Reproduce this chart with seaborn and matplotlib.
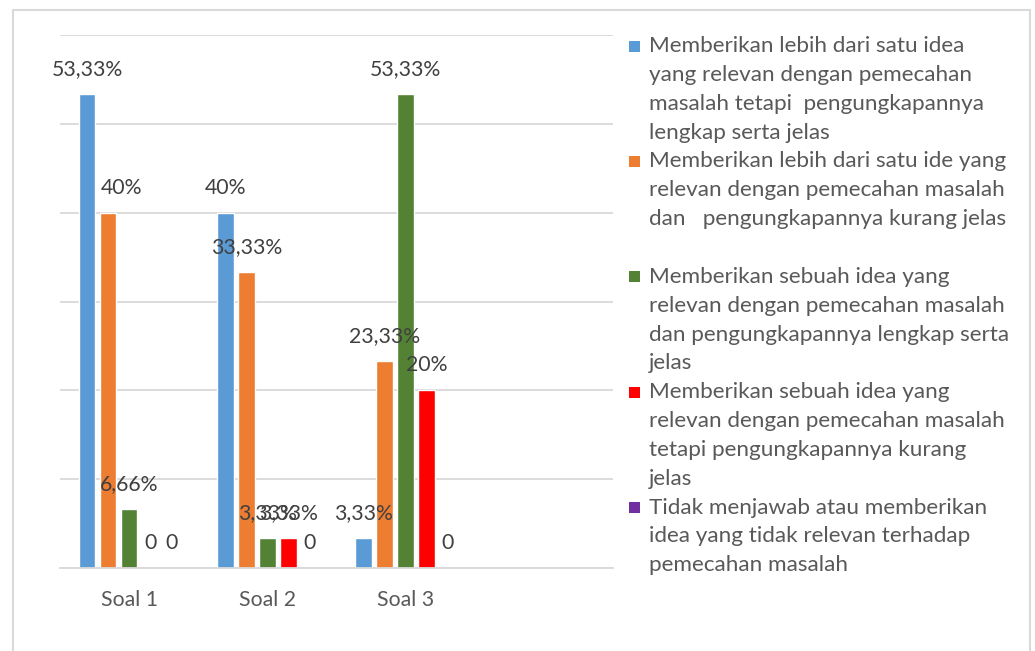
import numpy as np
import pandas as pd
import matplotlib
matplotlib.use("Agg")
import matplotlib.pyplot as plt
from matplotlib.patches import Rectangle
import seaborn as sns

# ---------------- data ----------------
categories = ["Soal 1", "Soal 2", "Soal 3"]

series_names = [
    "Memberikan lebih dari satu idea yang relevan dengan pemecahan masalah tetapi  pengungkapannya lengkap serta jelas",
    "Memberikan lebih dari satu ide yang relevan dengan pemecahan masalah dan   pengungkapannya kurang jelas",
    "Memberikan sebuah idea yang relevan dengan pemecahan masalah dan pengungkapannya lengkap serta jelas",
    "Memberikan sebuah idea yang relevan dengan pemecahan masalah tetapi pengungkapannya kurang jelas",
    "Tidak menjawab atau memberikan idea yang tidak relevan terhadap pemecahan masalah",
]
legend_lines = [
    ["Memberikan lebih dari satu idea", "yang relevan dengan pemecahan",
     "masalah tetapi  pengungkapannya", "lengkap serta jelas"],
    ["Memberikan lebih dari satu ide yang", "relevan dengan pemecahan masalah",
     "dan   pengungkapannya kurang jelas", ""],
    ["Memberikan sebuah idea yang", "relevan dengan pemecahan masalah",
     "dan pengungkapannya lengkap serta", "jelas"],
    ["Memberikan sebuah idea yang", "relevan dengan pemecahan masalah",
     "tetapi pengungkapannya kurang", "jelas"],
    ["Tidak menjawab atau memberikan", "idea yang tidak relevan terhadap",
     "pemecahan masalah"],
]

vals_blue = [53.33, 40, 3.33]
vals_orange = [40, 33.33, 23.33]
vals_green = [6.66, 3.33, 53.33]
vals_red = [0, 3.33, 20]
vals_purple = [0, 0, 0]
series_values = [vals_blue, vals_orange, vals_green, vals_red, vals_purple]

colors = ["#5B9BD5", "#ED7D31", "#548235", "#FF0000", "#7030A0"]

rows = []
for name, vals in zip(series_names, series_values):
    for cat, v in zip(categories, vals):
        rows.append({"Soal": cat, "Nilai": v, "Seri": name})
df = pd.DataFrame(rows)


def fmt(v):
    if v == 0:
        return "0"
    if float(v).is_integer():
        return f"{int(v)}%"
    return f"{v:.2f}%".replace(".", ",")


# ---------------- figure ----------------
sns.set_theme(style="white")
plt.rcParams["font.family"] = ["Lato", "DejaVu Sans"]

W, H = 1035, 651
fig = plt.figure(figsize=(W / 100, H / 100), dpi=100)
fig.patch.set_facecolor("white")

LABEL_FS = 15.3
LEGEND_FS = 16.2

# outer chart border
fig.patches.append(Rectangle((13 / W, -0.02), (1030 - 13) / W, (H - 10) / H + 0.02,
                             transform=fig.transFigure, fill=False,
                             edgecolor="#d9d9d9", linewidth=1.5, zorder=0))

ax = fig.add_axes([60 / W, (H - 568) / H, (613 - 60) / W, (568 - 35) / H])
sns.barplot(data=df, x="Soal", y="Nilai", hue="Seri", hue_order=series_names,
            order=categories, palette=colors, saturation=1, width=0.76, gap=0.22,
            errorbar=None, legend=False, ax=ax)

ax.set_xlim(-0.5, 3.5)
ax.set_ylim(0, 60)
ax.set_yticks(np.arange(0, 61, 10))
ax.set_yticklabels([])
ax.yaxis.grid(True, color="#d9d9d9", linewidth=1.3)
ax.xaxis.grid(False)
ax.set_axisbelow(True)
for s in ["top", "right", "left"]:
    ax.spines[s].set_visible(False)
ax.spines["bottom"].set_color("#d9d9d9")
ax.spines["bottom"].set_linewidth(1.3)
ax.tick_params(axis="x", length=0, pad=16, labelsize=LABEL_FS, labelcolor="#595959")
ax.tick_params(axis="y", length=0)
ax.set_xlabel("")
ax.set_ylabel("")
ax.patch.set_alpha(0)

# data labels
nudge_px = {(1, 0): 13.5}
for i, cont in enumerate(ax.containers):
    for j, bar in enumerate(cont):
        v = series_values[i][j]
        x = bar.get_x() + bar.get_width() / 2
        dx = nudge_px.get((i, j), 0) * 0.72
        ax.annotate(fmt(v), (x, bar.get_height()), xytext=(dx, 18),
                    textcoords="offset points", ha="center", va="center",
                    fontsize=LABEL_FS, color="#404040", annotation_clip=False)

# legend (manual, Excel-style with top-aligned markers)
step = 28.85
line_idx = 0
for k, lines in enumerate(legend_lines):
    y0 = 46 + step * line_idx
    fig.patches.append(Rectangle((629 / W, 1 - (y0 + 5.5) / H), 11 / W, 11 / H,
                                 transform=fig.transFigure, facecolor=colors[k],
                                 edgecolor="none"))
    for ln in lines:
        y = 46 + step * line_idx
        if ln:
            fig.text(649 / W, 1 - y / H, ln, ha="left", va="center",
                     fontsize=LEGEND_FS, color="#595959")
        line_idx += 1

fig.savefig("out.png", dpi=100)
